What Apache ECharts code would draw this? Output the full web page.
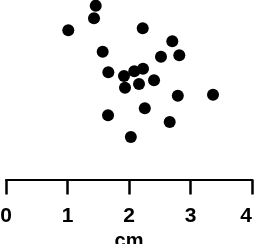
<!DOCTYPE html>
<html><head><meta charset="utf-8">
<script src="https://cdn.jsdelivr.net/npm/echarts@6/dist/echarts.min.js"></script>
<style>html,body{margin:0;padding:0;background:#fff}#c{width:254px;height:244px}</style>
</head><body><div id="c"></div>
<script>
const xValues = [1.459,1.431,1.013,2.223,2.704,1.572,2.520,2.818,1.664,1.919,2.086,2.228,2.407,2.163,1.935,2.794,3.366,2.257,1.659,2.662,2.030];
const yValues = [2.826,2.621,2.426,2.459,2.247,2.078,1.997,2.020,1.743,1.683,1.759,1.802,1.613,1.553,1.493,1.363,1.379,1.158,1.044,0.935,0.691];
const xTicks = [0,1,2,3,4];
const xName = 'cm';
const chart = echarts.init(document.getElementById('c'), null, {renderer:'canvas'});
chart.setOption({
  animation:false,
  grid:{left:6,right:2,top:0,bottom:64.5,outerBoundsMode:'none'},
  xAxis:{type:'value',min:xTicks[0],max:xTicks[xTicks.length-1],interval:1,
    name:xName,nameLocation:'middle',nameGap:45,
    nameTextStyle:{color:'#000',fontFamily:'Liberation Sans',fontSize:20,fontWeight:'bold'},
    axisLine:{show:true,lineStyle:{color:'#000',width:2}},
    axisTick:{show:true,inside:false,length:15,lineStyle:{color:'#000',width:2.5}},
    axisLabel:{color:'#000',fontFamily:'Liberation Sans',fontSize:21,fontWeight:'bold',margin:26,alignMaxLabel:'right'},
    splitLine:{show:false}},
  yAxis:{type:'value',min:0,max:2.919,show:false,splitLine:{show:false}},
  series:[{type:'scatter',symbol:'circle',symbolSize:12,itemStyle:{color:'#000',opacity:1},
    data:xValues.map((x,i)=>[x,yValues[i]])}]
});
</script></body></html>
